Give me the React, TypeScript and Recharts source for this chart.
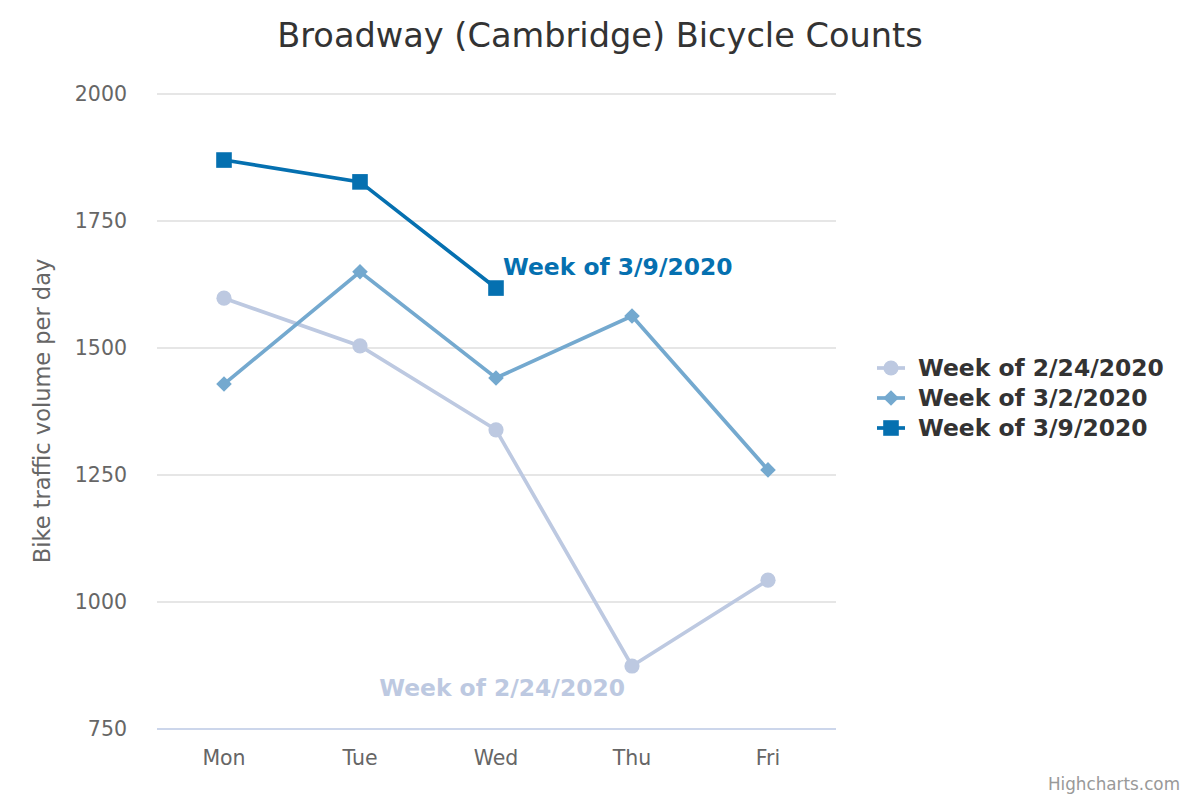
import React from 'react';
import { LineChart, Line, XAxis, YAxis, CartesianGrid, LabelList } from 'recharts';

const days = ['Mon', 'Tue', 'Wed', 'Thu', 'Fri'];
const week0224 = [1598, 1504, 1339, 874, 1043];
const week0302 = [1429, 1650, 1441, 1563, 1260];
const week0309: (number | null)[] = [1870, 1827, 1618, null, null];
const yTicks = [750, 1000, 1250, 1500, 1750, 2000];

const FONT = '"DejaVu Sans", Verdana, sans-serif';
const BOLD_SIZE = 23.4;

const seriesDefs = [
  { key: 'w0224', name: 'Week of 2/24/2020', color: '#bdc9e1', shape: 'circle', labelIndex: 3 },
  { key: 'w0302', name: 'Week of 3/2/2020', color: '#74a9cf', shape: 'diamond', labelIndex: -1 },
  { key: 'w0309', name: 'Week of 3/9/2020', color: '#0570b0', shape: 'square', labelIndex: 2 },
];

const data = days.map((d, i) => ({
  day: d,
  w0224: week0224[i],
  w0302: week0302[i],
  w0309: week0309[i],
}));

function Marker({ shape, cx, cy, color }: { shape: string; cx: number; cy: number; color: string }) {
  if (shape === 'circle') return <circle cx={cx} cy={cy} r={7.6} fill={color} />;
  if (shape === 'square') return <rect x={cx - 7.8} y={cy - 7.8} width={15.6} height={15.6} fill={color} />;
  const r = 7.8;
  return <path d={`M ${cx} ${cy - r} L ${cx + r} ${cy} L ${cx} ${cy + r} L ${cx - r} ${cy} Z`} fill={color} />;
}

const makeDot = (shape: string, color: string) => (props: any) => {
  const { cx, cy, index } = props;
  if (cx == null || cy == null || props.value == null || (Array.isArray(props.value) && props.value[1] == null)) {
    return <g key={`e-${shape}-${index}`} />;
  }
  return (
    <g key={`d-${shape}-${index}`}>
      <Marker shape={shape} cx={cx} cy={cy} color={color} />
    </g>
  );
};

const makeLabel = (def: typeof seriesDefs[number]) => (props: any) => {
  const { x, y, index } = props;
  if (index !== def.labelIndex || x == null || y == null) return null;
  if (def.shape === 'circle') {
    return (
      <text x={x - 7} y={y + 30} textAnchor="end" fill={def.color} fontFamily={FONT} fontWeight="bold" fontSize={BOLD_SIZE}>
        {def.name}
      </text>
    );
  }
  return (
    <text x={x + 7} y={y - 13} textAnchor="start" fill={def.color} fontFamily={FONT} fontWeight="bold" fontSize={BOLD_SIZE}>
      {def.name}
    </text>
  );
};

function LegendBox() {
  return (
    <div style={{ position: 'absolute', left: 877, top: 353, fontFamily: FONT }}>
      {seriesDefs.map((s) => (
        <div key={s.key} style={{ display: 'flex', alignItems: 'center', height: 30 }}>
          <svg width={28} height={30} style={{ display: 'block' }}>
            <line x1={0} y1={15} x2={28} y2={15} stroke={s.color} strokeWidth={3.7} />
            <Marker shape={s.shape} cx={14} cy={15} color={s.color} />
          </svg>
          <span style={{ marginLeft: 13, fontWeight: 'bold', fontSize: BOLD_SIZE, color: '#333333', lineHeight: '30px', whiteSpace: 'nowrap' }}>
            {s.name}
          </span>
        </div>
      ))}
    </div>
  );
}

export default function App() {
  return (
    <div style={{ position: 'absolute', left: 0, top: 0, width: 1200, height: 800, background: '#ffffff', fontFamily: FONT }}>
      <div
        style={{
          position: 'absolute', left: 0, top: 16, width: 1200, textAlign: 'center',
          fontSize: 33.6, lineHeight: '40px', color: '#333333', fontFamily: FONT,
        }}
      >
        Broadway (Cambridge) Bicycle Counts
      </div>
      <div
        style={{
          position: 'absolute', left: 42 - 200, top: 411 - 15, width: 400, height: 30, lineHeight: '30px',
          textAlign: 'center', fontSize: 22.5, color: '#666666', transform: 'rotate(-90deg)', fontFamily: FONT,
          whiteSpace: 'nowrap',
        }}
      >
        Bike traffic volume per day
      </div>
      <LineChart width={1200} height={800} data={data} margin={{ top: 94, right: 364, bottom: 0, left: 0 }}>
        <CartesianGrid vertical={false} stroke="#e6e6e6" strokeWidth={1.8} />
        <XAxis
          dataKey="day"
          height={71}
          padding={{ left: 67, right: 68 }}
          tickLine={false}
          tickSize={0}
          tickMargin={21}
          axisLine={{ stroke: '#ccd6eb', strokeWidth: 2 }}
          tick={{ fill: '#666666', fontSize: 20.5, fontFamily: FONT }}
        />
        <YAxis
          width={157}
          domain={[750, 2000]}
          ticks={yTicks}
          type="number"
          allowDataOverflow
          axisLine={false}
          tickLine={false}
          tickSize={0}
          tickMargin={30}
          tick={{ fill: '#666666', fontSize: 20.5, fontFamily: FONT }}
        />
        {seriesDefs.map((s) => (
          <Line
            key={s.key}
            type="linear"
            dataKey={s.key}
            name={s.name}
            stroke={s.color}
            strokeWidth={3.7}
            dot={makeDot(s.shape, s.color)}
            activeDot={false}
            isAnimationActive={false}
            connectNulls={false}
          >
            {s.labelIndex >= 0 && <LabelList dataKey={s.key} content={makeLabel(s)} />}
          </Line>
        ))}
      </LineChart>
      <LegendBox />
      <div
        style={{
          position: 'absolute', right: 20, top: 774, lineHeight: '20px', fontSize: 16.8, color: '#999999', fontFamily: FONT,
        }}
      >
        Highcharts.com
      </div>
    </div>
  );
}
